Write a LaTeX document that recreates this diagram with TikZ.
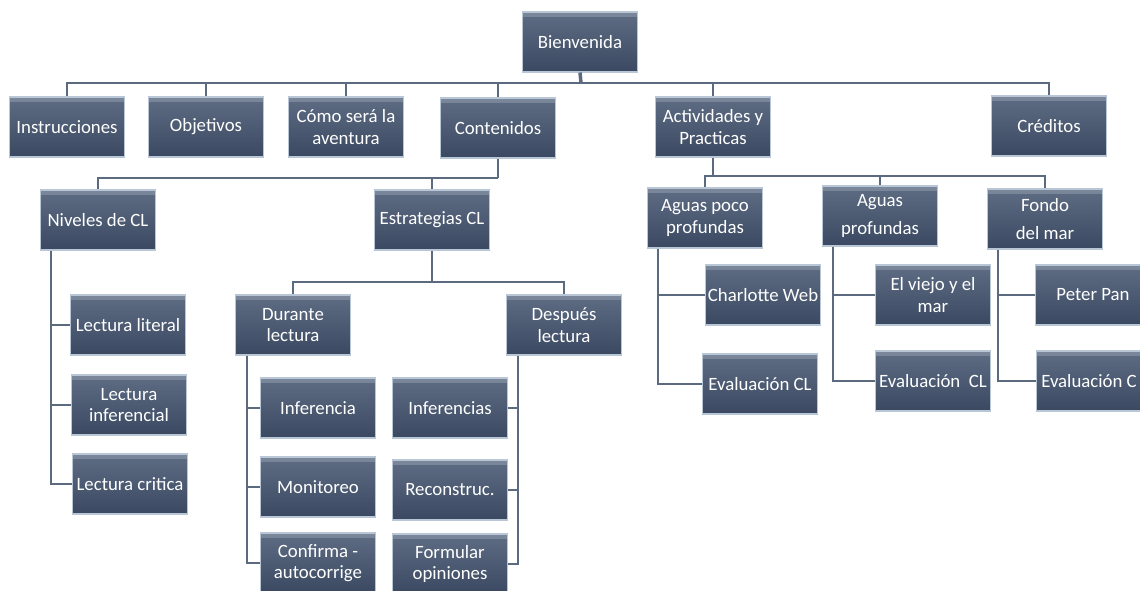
\documentclass[tikz,border=0pt]{standalone}
\usepackage{fontspec}
\setmainfont{Carlito}
\definecolor{cajaarriba}{HTML}{5E6D84}
\definecolor{cajaabajo}{HTML}{3A4961}
\definecolor{cajaborde}{HTML}{B9C6D6}
\definecolor{lineacol}{HTML}{5B6A7F}
\tikzset{
  tema/.style={rectangle, top color=cajaarriba, bottom color=cajaabajo,
    draw=cajaborde, line width=0.6pt, minimum width=2.3cm, minimum height=1.2cm,
    inner xsep=1pt, align=center, text=white,
    font=\fontsize{10.7}{12.3}\selectfont,
    path picture={\fill[white,opacity=0.18] (path picture bounding box.north west)
      rectangle ([yshift=-3pt]path picture bounding box.north east);}},
  linea/.style={draw=lineacol, line width=1.1pt}
}
\begin{document}
\begin{tikzpicture}[x=0.02cm, y=-0.02cm]
      \clip (0,0) rectangle (1140,591);
      \draw
        (580,42) node[tema] (bien){Bienvenida}
        (67,127) node[tema] (instr){Instrucciones}
        (206,127) node[tema] (obj){Objetivos}
        (346,127) node[tema] (como){Cómo será la\\aventura}
        (498,128) node[tema] (cont){Contenidos}
        (713,127) node[tema] (act){Actividades y\\Practicas}
        (1049,126) node[tema] (cred){Créditos}
        (98,220) node[tema] (niv){Niveles de CL}
        (432,220) node[tema] (estr){Estrategias CL}
        (128,325) node[tema] (lit){Lectura literal}
        (129,405) node[tema] (infl){Lectura\\inferencial}
        (130,484) node[tema] (crit){Lectura critica}
        (293,325) node[tema] (dur){Durante\\lectura}
        (564,325) node[tema] (desp){Después\\lectura}
        (318,408) node[tema] (inf){Inferencia}
        (318,487) node[tema] (mon){Monitoreo}
        (318,563) node[tema] (conf){Confirma -\\autocorrige}
        (450,408) node[tema] (infs){Inferencias}
        (450,490) node[tema] (rec){Reconstruc.}
        (450,564) node[tema] (form){Formular\\opiniones}
        (705,218) node[tema] (agpo){Aguas poco\\profundas}
        (880,216) node[tema] (agpr){Aguas\\[4pt]profundas}
        (1045,219) node[tema] (fondo){Fondo\\[4pt]del mar}
        (763,295) node[tema] (char){Charlotte Web}
        (760,384) node[tema] (ev1){Evaluación CL}
        (933,295) node[tema] (viejo){El viejo y el\\mar}
        (933,381) node[tema] (ev2){Evaluación\ \ CL}
        (1093,295) node[tema] (peter){Peter Pan}
        (1094,381) node[tema] (ev3){Evaluación C\hspace{0.2cm}};
      \begin{scope}[linea]
        \draw[line width=2pt] (bien.south) -- (581,83) coordinate (b1);
        \foreach \n in {instr,obj,como,cont,act,cred}
          \draw (b1) -| (\n.north);
        \draw (cont.south) -- (498,178) coordinate (b2);
        \draw (b2) -| (niv.north);
        \draw (b2) -| (estr.north);
        \draw (estr.south) -- (432,282) coordinate (b3);
        \draw (b3) -| (dur.north);
        \draw (b3) -| (desp.north);
        \draw (act.south) -- (713,176) coordinate (b4);
        \draw (b4) -| (agpo.north);
        \draw (b4) -| (agpr.north);
        \draw (b4) -| (fondo.north);
        \foreach \n in {lit,infl,crit}
          \draw (niv.south west) ++(11,0) |- (\n.west);
        \foreach \n in {inf,mon,conf}
          \draw (dur.south west) ++(12,0) |- (\n.west);
        \foreach \n in {infs,rec,form}
          \draw (desp.south west) ++(12,0) |- (\n.east);
        \foreach \n in {char,ev1}
          \draw (agpo.south west) ++(11,0) |- (\n.west);
        \foreach \n in {viejo,ev2}
          \draw (agpr.south west) ++(11,0) |- (\n.west);
        \foreach \n in {peter,ev3}
          \draw (fondo.south west) ++(11,0) |- (\n.west);
      \end{scope}
    \end{tikzpicture}
\end{document}
